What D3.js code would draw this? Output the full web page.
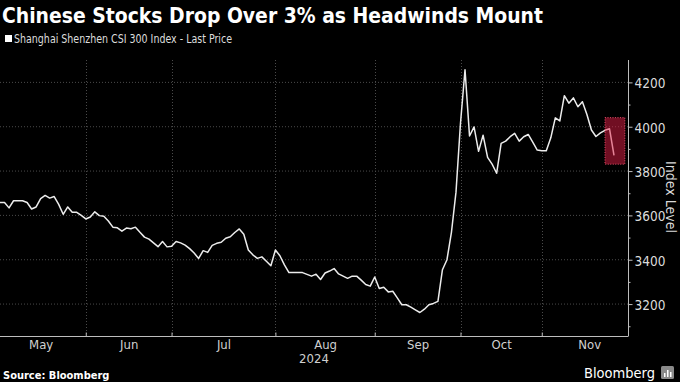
<!DOCTYPE html>
<html><head><meta charset="utf-8">
<script src="https://cdn.jsdelivr.net/npm/d3@7"></script>
<style>html,body{margin:0;padding:0;background:#000;} svg{display:block;}</style>
</head><body>
<svg id="chart" width="680" height="382"></svg>
<script>
const titleText = "Chinese Stocks Drop Over 3% as Headwinds Mount";
const seriesName = "Shanghai Shenzhen CSI 300 Index - Last Price";
const sourceText = "Source: Bloomberg";
const yAxisTitle = "Index Level";
const yearLabel = "2024";

// daily closes (trading days), early May - late Nov 2024
const closes = [
  3658,3658,3634,3666,3666,3666,3658,3629,3638,3676,
  3690,3678,3685,3650,3605,3638,3614,3614,3600,3584,
  3593,3616,3599,3596,3575,3547,3544,3529,3543,3540,
  3547,3524,3502,3493,3476,3459,3482,3458,3461,3482,
  3476,3466,3450,3430,3406,3441,3433,3465,3474,3479,
  3497,3504,3523,3539,3515,3444,3422,3406,3413,3393,
  3373,3444,3418,3377,3342,3342,3342,3342,3334,3326,
  3335,3311,3340,3349,3360,3336,3326,3316,3326,3326,
  3308,3288,3281,3322,3270,3276,3255,3258,3228,3197,
  3197,3186,3174,3162,3177,3197,3203,3212,3355,3400,
  3525,3705,4017,4257,3958,3999,3889,3962,3862,3831,
  3790,3925,3935,3955,3970,3935,3955,3965,3930,3895,
  3892,3892,3950,4040,4026,4140,4106,4130,4090,4113,
  4055,3985,3956,3972,3984,3991,3871
];

const months = ["May","Jun","Jul","Aug","Sep","Oct","Nov"];
const monthStartIdx = [-1, 19, 38, 61, 83, 102, 120];
const monthEndIdx   = [19, 38, 61, 83, 102, 120, 141];
const yMajorTicks = [3200, 3400, 3600, 3800, 4000, 4200];
const yMinorTicks = [3100, 3300, 3500, 3700, 3900, 4100];
const highlightIdx = [134, 138.4];
const highlightVal = [3831, 4041];

const svg = d3.select("#chart");
const W = 680, H = 382;
svg.append("rect").attr("width", W).attr("height", H).attr("fill", "#000");

const plot = {left: 0, right: 628, top: 60, bottom: 336};
const x = d3.scaleLinear().domain([0, 139.1]).range([plot.left, plot.right]);
const y = d3.scaleLinear().domain([3056, 4301]).range([plot.bottom, plot.top]);

const FONT = "'DejaVu Sans Condensed','DejaVu Sans',sans-serif";

// Title
svg.append("text").attr("x", 2).attr("y", 23)
  .attr("fill", "#fff").attr("font-family", FONT).attr("font-weight", "bold")
  .attr("font-size", 22).attr("textLength", 541).attr("lengthAdjust", "spacingAndGlyphs")
  .text(titleText);

// Legend
svg.append("rect").attr("x", 5).attr("y", 35).attr("width", 7).attr("height", 7).attr("fill", "#fff");
svg.append("text").attr("x", 14).attr("y", 43)
  .attr("fill", "#ddd").attr("font-family", FONT).attr("font-size", 11.5)
  .attr("textLength", 218).attr("lengthAdjust", "spacingAndGlyphs")
  .text(seriesName);

// Horizontal gridlines
const gridCol = "#4a4a4a";
svg.append("g").selectAll("line").data(yMajorTicks).join("line")
  .attr("x1", plot.left).attr("x2", plot.right)
  .attr("y1", d => y(d)).attr("y2", d => y(d))
  .attr("stroke", gridCol).attr("stroke-width", 1).attr("stroke-dasharray", "1,2");

// Vertical gridlines at month boundaries
svg.append("g").selectAll("line").data(monthStartIdx.filter(d => d >= 0)).join("line")
  .attr("x1", d => Math.round(x(d)) + 0.5).attr("x2", d => Math.round(x(d)) + 0.5)
  .attr("y1", plot.top).attr("y2", plot.bottom)
  .attr("stroke", gridCol).attr("stroke-width", 1).attr("stroke-dasharray", "1,2");

// Line
const clipId = "plotclip";
svg.append("clipPath").attr("id", clipId).append("rect")
  .attr("x", plot.left).attr("y", plot.top).attr("width", plot.right - plot.left).attr("height", plot.bottom - plot.top);
const line = d3.line().x((d, i) => x(i)).y(d => y(d));
svg.append("path").datum(closes).attr("d", line)
  .attr("fill", "none").attr("stroke", "#ececec").attr("stroke-width", 1.5)
  .attr("stroke-linejoin", "round").attr("clip-path", `url(#${clipId})`);

// Highlight box
svg.append("rect")
  .attr("x", x(highlightIdx[0])).attr("y", y(highlightVal[1]))
  .attr("width", x(highlightIdx[1]) - x(highlightIdx[0]))
  .attr("height", y(highlightVal[0]) - y(highlightVal[1]))
  .attr("fill", "rgba(225,30,70,0.5)")
  .attr("stroke", "rgba(255,90,120,0.85)").attr("stroke-width", 1).attr("stroke-dasharray", "1,1.5");

// Y axis (right)
const axisCol = "#bdbdbd";
const yAxis = svg.append("g").attr("transform", `translate(${plot.right + 0.5},0)`)
  .call(d3.axisRight(y).tickValues(yMajorTicks).tickSize(4).tickPadding(2).tickFormat(d3.format("d")));
yAxis.select(".domain").attr("stroke", axisCol).attr("d", `M0,${plot.top}V${plot.bottom}`);
yAxis.selectAll(".tick line").attr("stroke", axisCol);
yAxis.selectAll(".tick text").attr("fill", "#dcdcdc").attr("font-family", FONT).attr("font-size", 13.5)
  .attr("dy", "0.4em");
const yMinor = svg.append("g").attr("transform", `translate(${plot.right + 0.5},0)`)
  .call(d3.axisRight(y).tickValues(yMinorTicks).tickSize(2).tickFormat(""));
yMinor.select(".domain").remove();
yMinor.selectAll(".tick line").attr("stroke", axisCol);

// Y axis title
svg.append("text").attr("transform", `translate(666,${(plot.top + plot.bottom) / 2 - 1}) rotate(90)`)
  .attr("text-anchor", "middle").attr("fill", "#d8d8d8").attr("font-family", FONT).attr("font-size", 14)
  .text(yAxisTitle);

// X axis: boundary ticks
const xAxis = svg.append("g").attr("transform", `translate(0,${plot.bottom + 0.5})`)
  .call(d3.axisBottom(x).tickValues(monthStartIdx.filter(d => d >= 0)).tickSize(-4).tickFormat(""));
xAxis.select(".domain").attr("stroke", axisCol).attr("d", `M${plot.left},0H${plot.right + 0.5}`);
xAxis.selectAll(".tick line").attr("stroke", axisCol);

// X axis: month labels centred in each month
const monthCenters = months.map((m, i) => (monthStartIdx[i] + monthEndIdx[i]) / 2);
const xLab = svg.append("g").attr("transform", `translate(0,${plot.bottom})`)
  .call(d3.axisBottom(x).tickValues(monthCenters).tickSize(0).tickPadding(4)
    .tickFormat((d, i) => months[i]));
xLab.select(".domain").remove();
xLab.selectAll(".tick text").attr("fill", "#d0d0d0").attr("font-family", FONT).attr("font-size", 13);

svg.append("text").attr("x", (plot.left + plot.right) / 2).attr("y", 363)
  .attr("text-anchor", "middle").attr("fill", "#d0d0d0").attr("font-family", FONT).attr("font-size", 13)
  .text(yearLabel);

// Footer
svg.append("text").attr("x", 3).attr("y", 379)
  .attr("fill", "#fff").attr("font-family", FONT).attr("font-weight", "bold").attr("font-size", 11)
  .text(sourceText);
svg.append("text").attr("x", 655).attr("y", 378).attr("text-anchor", "end")
  .attr("fill", "#fff").attr("font-family", FONT).attr("font-size", 14.5)
  .text("Bloomberg");
const logo = svg.append("g").attr("transform", "translate(661,366)");
logo.append("rect").attr("width", 13).attr("height", 13).attr("rx", 1.5).attr("fill", "#8a8a8a");
logo.append("rect").attr("x", 3).attr("y", 7).attr("width", 1.5).attr("height", 4).attr("fill", "#fff");
logo.append("rect").attr("x", 6).attr("y", 4).attr("width", 1.5).attr("height", 7).attr("fill", "#fff");
logo.append("rect").attr("x", 9).attr("y", 6).attr("width", 1.5).attr("height", 5).attr("fill", "#fff");
</script>
</body></html>
